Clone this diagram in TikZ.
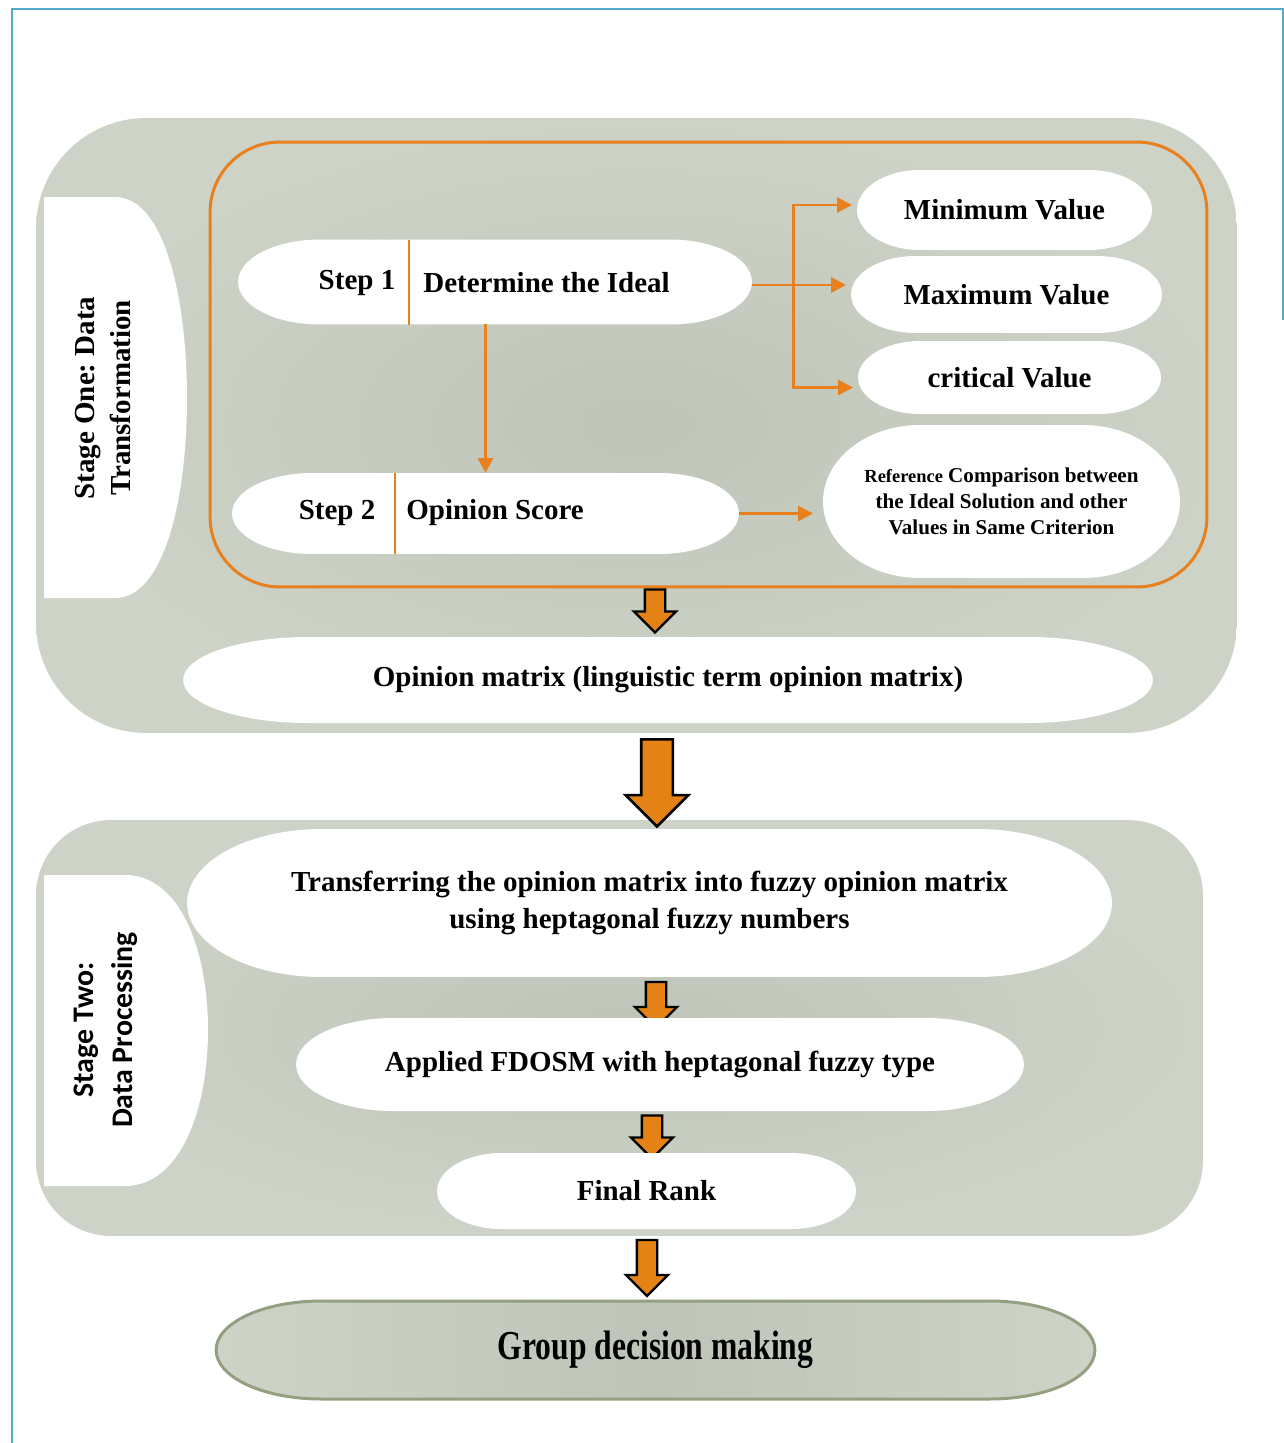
\documentclass[tikz,border=0pt]{standalone}
\usepackage{fontspec}
\setmainfont{Liberation Serif}
\newfontfamily\calibrifont{Carlito}
\usetikzlibrary{shapes.arrows, arrows.meta, positioning, calc}
\definecolor{stagegray}{RGB}{206,211,200}
\definecolor{stagedark}{RGB}{190,197,184}
\definecolor{lineorange}{RGB}{232,128,30}
\definecolor{arroworange}{RGB}{228,130,22}
\definecolor{frameblue}{RGB}{80,170,200}
\definecolor{groupedge}{RGB}{148,158,128}
\newcommand{\mainfnt}{\bfseries\fontsize{16.5}{21}\selectfont}
\newcommand{\pillpath}[2]{let \p1=(#1.south west), \p2=(#1.north east),
    \n1={#2}, \n2={(\y2-\y1)/2}, \n3={0.5523*#2}, \n4={0.5523*(\y2-\y1)/2} in
    (\x1+\n1,\y2) -- (\x2-\n1,\y2)
    .. controls (\x2-\n1+\n3,\y2) and (\x2,\y1+\n2+\n4) .. (\x2,\y1+\n2)
    .. controls (\x2,\y1+\n2-\n4) and (\x2-\n1+\n3,\y1) .. (\x2-\n1,\y1)
    -- (\x1+\n1,\y1)
    .. controls (\x1+\n1-\n3,\y1) and (\x1,\y1+\n2-\n4) .. (\x1,\y1+\n2)
    .. controls (\x1,\y1+\n2+\n4) and (\x1+\n1-\n3,\y2) .. (\x1+\n1,\y2) -- cycle}
\frenchspacing

\begin{document}
\begin{tikzpicture}[x=0.02cm, y=-0.02cm,
    stagebox/.style={inner color=stagedark, outer color=stagegray,
        rounded corners=#1, inner sep=0pt},
    pill/.style={inner sep=0pt, outer sep=0pt, align=center, font=\mainfnt,
        path picture={\fill[white] \pillpath{path picture bounding box}{#1};}},
    pill/.default=1.6cm,
    steptxt/.style={inner sep=0pt, font=\mainfnt},
    divline/.style={lineorange, line width=1.7pt},
    oarrow/.style={lineorange, line width=1.7pt,
        -{Triangle[length=0.3cm, width=0.3cm]}},
    blockarrow/.style={single arrow, draw=black, line width=1.3pt,
        fill=arroworange, rotate=-90, inner xsep=0pt, inner ysep=0.18cm,
        single arrow head extend=0.22cm, minimum height=#1},
    bigarrow/.style={single arrow, draw=black, line width=1.5pt,
        fill=arroworange, rotate=-90, inner xsep=0pt, inner ysep=0.29cm,
        single arrow head extend=0.31cm, minimum height=#1},
    stagelab/.style={fill=white},
    frameline/.style={frameblue, line width=0.8pt}
]
    \useasboundingbox (0,0) rectangle (1284,1443);
    \draw[frameline] (12,1443) -- (12,9) -- (1284,9);
    \draw[frameline] (1283,9) -- (1283,320);

    \node[stagebox=2.2cm, minimum width=24.02cm, minimum height=12.3cm] (st1) at (636.5,425.5) {};
    \node[stagebox=1.5cm, minimum width=23.34cm, minimum height=8.32cm] (st2) at (619.5,1028) {};

    \fill[stagelab] (44,197) -- (115,197) .. controls (165,197) and (187,300) .. (187,398)
        .. controls (187,496) and (165,598) .. (115,598) -- (44,598) -- cycle;
    \node[rotate=90, align=center, font=\bfseries\fontsize{16.5}{20}\selectfont] (st1lab) at (103,398)
        {Stage One: Data\\Transformation};

    \fill[stagelab] (44,875) -- (125,875) .. controls (180,875) and (208,950) .. (208,1030)
        .. controls (208,1110) and (180,1186) .. (125,1186) -- (44,1186) -- cycle;
    \node[rotate=90, align=center, font=\calibrifont\bfseries\fontsize{17}{22}\selectfont] (st2lab) at (106,1030)
        {Stage Two:\\Data Processing};

    \node[draw=lineorange, line width=1.7pt, rounded corners=1.4cm, inner sep=0pt,
        minimum width=19.94cm, minimum height=8.9cm] (frm) at (708.5,364.5) {};

    \node[pill=1.64cm, minimum width=10.28cm, minimum height=1.7cm] (s1) at (495,282) {};
    \node[steptxt] (s1lab) at (357,283) {Step 1};
    \node[steptxt, anchor=west] (s1txt) at (423,283) {Determine the Ideal};
    \draw[divline] (409,240) -- (409,325);

    \node[pill=1.6cm, minimum width=10.14cm, minimum height=1.62cm] (s2) at (485.5,513.5) {};
    \node[steptxt] (s2lab) at (337,513) {Step 2};
    \node[steptxt, anchor=west] (s2txt) at (406,513) {Opinion Score};
    \draw[divline] (395,473) -- (395,554);

    \node[pill=1.26cm, minimum width=5.9cm, minimum height=1.6cm] (minv) at (1004.5,210) {Minimum Value};
    \node[pill=1.3cm, minimum width=6.22cm, minimum height=1.54cm] (maxv) at (1006.5,294.5) {Maximum Value};
    \node[pill=1.26cm, minimum width=6.06cm, minimum height=1.46cm] (crit) at (1009.5,377.5) {critical Value};
    \node[pill=1.94cm, minimum width=7.14cm, minimum height=3.06cm,
        font=\bfseries\fontsize{12}{14.8}\selectfont] (refc) at (1001.5,501.5)
        {{\fontsize{10.5}{14.8}\selectfont Reference} Comparison between\\the Ideal Solution and other\\Values in Same Criterion};

    \coordinate (br) at (793,285);
    \draw[divline] (s1.east |- br) -- (br);
    \draw[oarrow] (br) |- ([xshift=-0.1cm, yshift=0.1cm]minv.west);
    \draw[oarrow] (br) -- ([xshift=-0.1cm]br -| maxv.west);
    \draw[oarrow] (br) |- ([xshift=-0.1cm, yshift=-0.2cm]crit.west);
    \draw[oarrow] (s2.north |- s1.south) -- (s2.north);
    \draw[oarrow] (s2.east) -- ([xshift=-0.2cm]s2.east -| refc.west);

    \node[blockarrow=0.86cm] (a1) at (655,606) {};
    \node[pill=2.5cm, minimum width=19.4cm, minimum height=1.72cm] (opm) at (668,680)
        {Opinion matrix (linguistic term opinion matrix)};

    \node[bigarrow=1.74cm] (a2) at (657,775) {};

    \node[pill=2.7cm, minimum width=18.5cm, minimum height=2.96cm] (trans) at (649.5,903)
        {Transferring the opinion matrix into fuzzy opinion matrix\\using heptagonal fuzzy numbers};
    \node[blockarrow=0.92cm] (a3) at (656,1000) {};
    \node[pill=1.95cm, minimum width=14.56cm, minimum height=1.86cm] (appl) at (660,1064.5)
        {Applied FDOSM with heptagonal fuzzy type};
    \node[blockarrow=0.86cm] (a4) at (652,1132) {};
    \node[pill=1.3cm, minimum width=8.38cm, minimum height=1.52cm] (frank) at (646.5,1191) {Final Rank};

    \node[blockarrow=1.12cm] (a5) at (647,1263) {};
    \node[inner sep=0pt, outer sep=0pt, minimum width=17.58cm, minimum height=1.96cm,
        font=\bfseries\fontsize{18}{22}\selectfont,
        path picture={\shade[left color=stagegray, right color=stagegray, middle color=stagedark]
            \pillpath{path picture bounding box}{2.1cm};}] (grp) at (655.5,1350)
        {\scalebox{1.0}[1.3]{Group decision making}};
    \draw[groupedge, line width=1.7pt] \pillpath{grp}{2.1cm};
\end{tikzpicture}
\end{document}
